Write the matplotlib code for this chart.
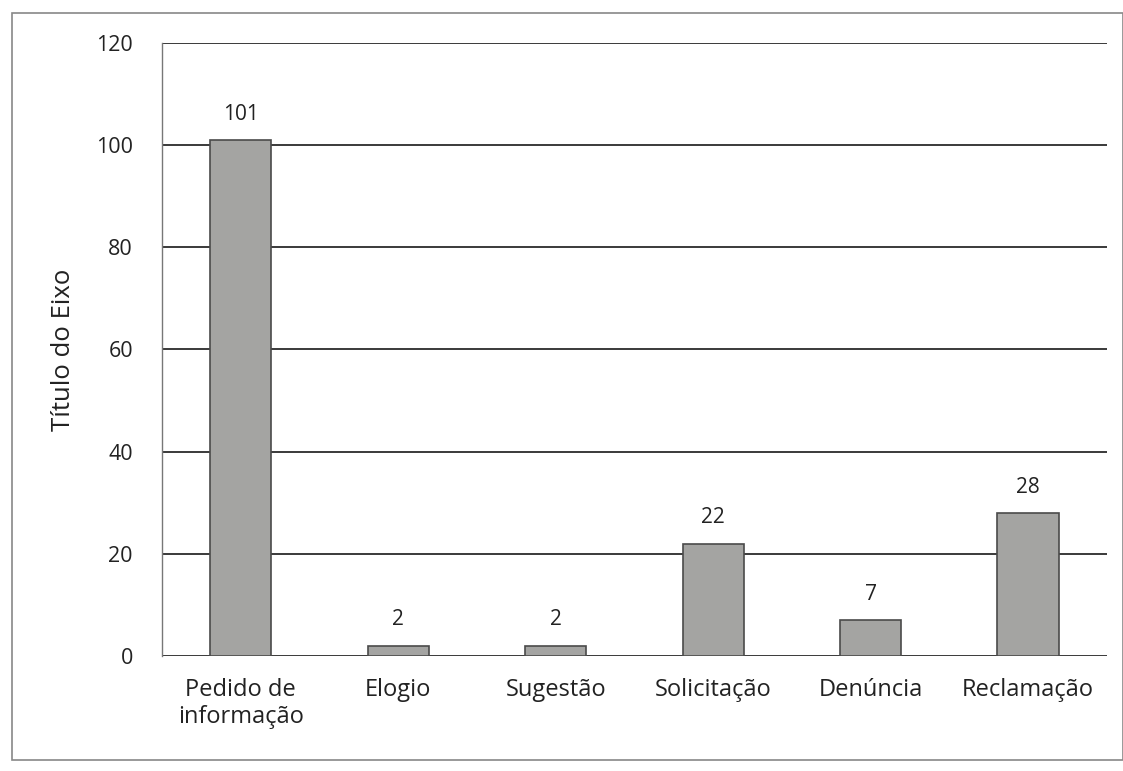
import matplotlib
matplotlib.use("Agg")
import matplotlib.pyplot as plt
from matplotlib.patches import Rectangle

categories = ["Pedido de\ninformação", "Elogio", "Sugestão", "Solicitação", "Denúncia", "Reclamação"]
values = [101, 2, 2, 22, 7, 28]
yticks = [0, 20, 40, 60, 80, 100, 120]

plt.rcParams['font.family'] = ['Open Sans', 'DejaVu Sans']

fig = plt.figure(figsize=(11.23, 7.71), dpi=100)
ax = fig.add_axes([0.1443, 0.1492, 0.8414, 0.795])

x = range(len(categories))
ax.bar(x, values, width=0.39, color="#a4a4a2", edgecolor="#4a4a4a", linewidth=1.2, zorder=3)
for xi, v in zip(x, values):
    ax.text(xi, v + 3, str(v), ha="center", va="bottom", fontsize=15, color="#222222")

ax.set_ylim(0, 120)
ax.set_xlim(-0.5, len(categories) - 0.5)
ax.set_yticks(yticks)
ax.set_yticklabels([str(t) for t in yticks], fontsize=15.5, color="#222222")
ax.set_xticks(list(x))
ax.set_xticklabels(categories, fontsize=17, color="#222222", linespacing=1.15)
ax.tick_params(axis="both", length=0)
ax.tick_params(axis="y", pad=21)
ax.tick_params(axis="x", pad=16)
ax.yaxis.grid(True, color="#3a3a3a", linewidth=1.4, zorder=0)
ax.set_axisbelow(True)
for s in ["top", "right", "bottom"]:
    ax.spines[s].set_visible(False)
ax.spines["left"].set_color("#777777")
ax.spines["left"].set_linewidth(1.0)
ax.set_ylabel("Título do Eixo", fontsize=18.5, color="#222222", labelpad=14)

fig.patches.append(Rectangle((12/1123, 1 - 760/771), (1123-12)/1123, (760-13)/771,
                             transform=fig.transFigure, fill=False,
                             edgecolor="#888888", linewidth=1.2))

fig.savefig("out.png", dpi=100)
